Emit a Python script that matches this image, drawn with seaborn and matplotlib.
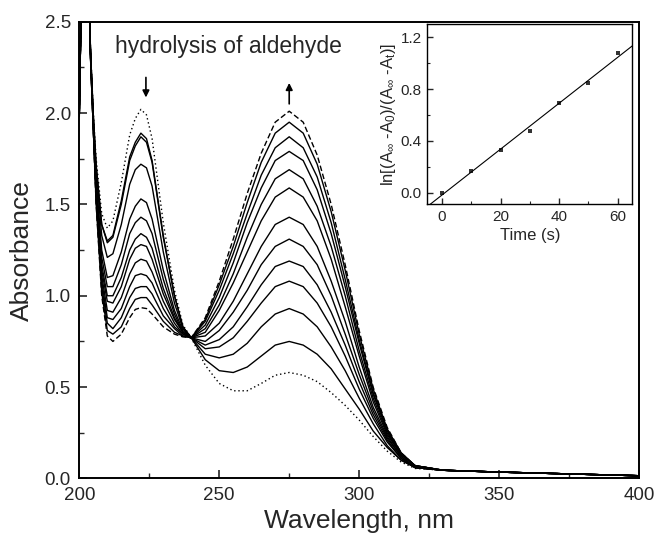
import numpy as np
import pandas as pd
import matplotlib
matplotlib.use('Agg')
import matplotlib.pyplot as plt
import seaborn as sns

sns.set_style('ticks')
plt.rcParams['font.family'] = ['Liberation Sans', 'DejaVu Sans']
plt.rcParams['mathtext.default'] = 'regular'
plt.rcParams['xtick.direction'] = 'in'
plt.rcParams['ytick.direction'] = 'in'

# wavelength grid (nm) shared by all spectra
wl = [200, 201, 203, 204, 205, 206, 208, 210, 212, 215, 218, 220, 222, 224, 226, 230, 234, 237, 240,
      245, 250, 255, 260, 265, 270, 275, 280, 285, 290, 295, 300, 305, 310, 315, 320, 330, 350, 400]

# spectra, first (dotted) -> last (dashed)
a0 = [2.00, 2.90, 2.95, 2.35, 2.00, 1.75, 1.45, 1.37, 1.41, 1.62, 1.88, 1.97, 2.02, 1.99, 1.86, 1.40, 1.03, 0.84, 0.77,
      0.62, 0.52, 0.48, 0.48, 0.52, 0.565, 0.58, 0.565, 0.53, 0.47, 0.40, 0.32, 0.23, 0.15, 0.09, 0.055, 0.045, 0.035, 0.015]
s1 = [2.02, 2.90, 2.95, 2.34, 1.99, 1.72, 1.39, 1.30, 1.33, 1.52, 1.76, 1.84, 1.89, 1.86, 1.74, 1.33, 1.00, 0.83, 0.77,
      0.65, 0.59, 0.58, 0.61, 0.67, 0.73, 0.75, 0.73, 0.68, 0.60, 0.49, 0.38, 0.26, 0.17, 0.10, 0.06, 0.045, 0.035, 0.015]
s2 = [1.98, 2.90, 2.95, 2.34, 1.99, 1.71, 1.39, 1.29, 1.32, 1.50, 1.74, 1.82, 1.87, 1.84, 1.73, 1.32, 1.00, 0.83, 0.77,
      0.68, 0.66, 0.68, 0.74, 0.83, 0.90, 0.93, 0.90, 0.83, 0.72, 0.59, 0.44, 0.30, 0.18, 0.10, 0.06, 0.045, 0.035, 0.015]
s3 = [2.04, 2.90, 2.95, 2.34, 1.97, 1.68, 1.33, 1.21, 1.23, 1.39, 1.61, 1.69, 1.72, 1.70, 1.60, 1.24, 0.96, 0.82, 0.77,
      0.71, 0.72, 0.77, 0.86, 0.96, 1.05, 1.08, 1.05, 0.96, 0.83, 0.67, 0.49, 0.33, 0.20, 0.11, 0.06, 0.045, 0.035, 0.015]
s4 = [2.00, 2.90, 2.95, 2.33, 1.95, 1.64, 1.25, 1.10, 1.11, 1.24, 1.42, 1.49, 1.53, 1.51, 1.42, 1.14, 0.92, 0.81, 0.77,
      0.73, 0.76, 0.83, 0.94, 1.06, 1.16, 1.19, 1.16, 1.06, 0.91, 0.73, 0.53, 0.35, 0.21, 0.11, 0.06, 0.045, 0.035, 0.015]
s5 = [2.01, 2.90, 2.95, 2.32, 1.95, 1.61, 1.21, 1.05, 1.05, 1.17, 1.34, 1.40, 1.43, 1.41, 1.34, 1.09, 0.90, 0.80, 0.77,
      0.75, 0.81, 0.91, 1.03, 1.17, 1.27, 1.31, 1.27, 1.17, 1.00, 0.79, 0.57, 0.37, 0.22, 0.12, 0.06, 0.045, 0.035, 0.015]
s6 = [1.99, 2.90, 2.95, 2.32, 1.94, 1.59, 1.17, 1.00, 1.00, 1.10, 1.25, 1.31, 1.34, 1.32, 1.26, 1.04, 0.88, 0.80, 0.77,
      0.78, 0.85, 0.97, 1.12, 1.27, 1.39, 1.43, 1.39, 1.27, 1.08, 0.86, 0.61, 0.39, 0.23, 0.12, 0.06, 0.045, 0.035, 0.015]
s7 = [2.00, 2.90, 2.95, 2.32, 1.93, 1.58, 1.14, 0.97, 0.96, 1.05, 1.20, 1.26, 1.28, 1.27, 1.20, 1.01, 0.87, 0.80, 0.77,
      0.80, 0.92, 1.07, 1.24, 1.41, 1.54, 1.59, 1.54, 1.41, 1.20, 0.94, 0.67, 0.42, 0.24, 0.13, 0.07, 0.045, 0.035, 0.015]
s8 = [2.00, 2.90, 2.95, 2.31, 1.92, 1.56, 1.11, 0.92, 0.91, 0.99, 1.12, 1.18, 1.20, 1.19, 1.13, 0.97, 0.85, 0.79, 0.77,
      0.82, 0.95, 1.12, 1.32, 1.50, 1.64, 1.69, 1.64, 1.49, 1.27, 1.00, 0.70, 0.44, 0.25, 0.13, 0.07, 0.045, 0.035, 0.015]
s9 = [2.00, 2.90, 2.95, 2.31, 1.92, 1.54, 1.08, 0.88, 0.87, 0.93, 1.05, 1.11, 1.12, 1.11, 1.07, 0.93, 0.83, 0.79, 0.77,
      0.84, 0.99, 1.18, 1.40, 1.59, 1.74, 1.79, 1.74, 1.58, 1.34, 1.05, 0.74, 0.46, 0.26, 0.13, 0.07, 0.045, 0.035, 0.015]
s10 = [2.00, 2.90, 2.95, 2.31, 1.91, 1.53, 1.05, 0.85, 0.82, 0.88, 0.99, 1.04, 1.05, 1.05, 1.01, 0.89, 0.82, 0.78, 0.77,
       0.86, 1.03, 1.23, 1.45, 1.66, 1.81, 1.87, 1.81, 1.65, 1.40, 1.09, 0.76, 0.47, 0.27, 0.14, 0.07, 0.045, 0.035, 0.015]
s11 = [2.00, 2.90, 2.95, 2.30, 1.91, 1.51, 1.02, 0.81, 0.79, 0.83, 0.93, 0.98, 0.99, 0.99, 0.95, 0.86, 0.80, 0.78, 0.77,
       0.87, 1.06, 1.27, 1.51, 1.73, 1.89, 1.95, 1.89, 1.72, 1.46, 1.14, 0.79, 0.49, 0.27, 0.14, 0.07, 0.045, 0.035, 0.015]
a12 = [2.00, 2.90, 2.95, 2.30, 1.90, 1.50, 1.00, 0.78, 0.75, 0.79, 0.88, 0.925, 0.935, 0.93, 0.90, 0.83, 0.79, 0.775, 0.77,
       0.88, 1.08, 1.31, 1.56, 1.78, 1.95, 2.01, 1.95, 1.77, 1.50, 1.17, 0.81, 0.50, 0.28, 0.14, 0.07, 0.045, 0.035, 0.015]

# inset: first-order plot
t_s = [0, 10, 20, 30, 40, 50, 60]
ln_ratio = [0.0, 0.17, 0.327, 0.479, 0.693, 0.85, 1.079]

curves = [a0, s1, s2, s3, s4, s5, s6, s7, s8, s9, s10, s11, a12]
kinds = ['first'] + ['mid'] * 11 + ['last']

df = pd.DataFrame({
    'wl': np.tile(wl, len(curves)),
    'A': np.concatenate(curves),
    'curve': np.repeat(np.arange(len(curves)), len(wl)),
    'kind': np.repeat(kinds, len(wl)),
})

fig = plt.figure(figsize=(6.55, 5.42), dpi=100)
ax = fig.add_axes([0.1211, 0.1172, 0.8545, 0.8428])

sns.lineplot(data=df, x='wl', y='A', units='curve', estimator=None, style='kind',
             dashes={'first': (1, 2), 'mid': '', 'last': (4, 2)},
             color='black', lw=1.0, legend=False, sort=False, ax=ax)

ax.set_xlim(200, 400)
ax.set_ylim(0, 2.5)
ax.set_xticks([200, 250, 300, 350, 400])
ax.set_xticks([225, 275, 325, 375], minor=True)
ax.set_yticks([0.0, 0.5, 1.0, 1.5, 2.0, 2.5])
ax.set_yticks([0.25, 0.75, 1.25, 1.75, 2.25], minor=True)
ax.set_yticklabels(['0.0', '0.5', '1.0', '1.5', '2.0', '2.5'])
ax.tick_params(which='major', length=6, width=1.2, labelsize=13.5, pad=6)
ax.tick_params(which='minor', length=3.5, width=1.0)
for sp in ax.spines.values():
    sp.set_linewidth(1.4)
    sp.set_color('black')
ax.set_xlabel('Wavelength, nm', fontsize=19, labelpad=4)
ax.set_ylabel('Absorbance', fontsize=19, labelpad=8)

ax.text(212.8, 2.33, 'hydrolysis of aldehyde', fontsize=16.5, va='baseline')
ax.annotate('', xy=(223.8, 2.07), xytext=(223.8, 2.21),
            arrowprops=dict(arrowstyle='-|>', color='black', lw=1.2, mutation_scale=10))
ax.annotate('', xy=(275, 2.18), xytext=(275, 2.035),
            arrowprops=dict(arrowstyle='-|>', color='black', lw=1.2, mutation_scale=10))

# inset
axin = fig.add_axes([0.6524, 0.6236, 0.313, 0.3321])
axin.set_xlim(-5, 65)
axin.set_ylim(-0.087, 1.303)
sns.regplot(x=t_s, y=ln_ratio, ax=axin, ci=None, truncate=False, color='black', marker='s',
            scatter_kws={'s': 12, 'linewidths': 0}, line_kws={'lw': 0.8})
axin.set_xlim(-5, 65)
axin.set_ylim(-0.087, 1.303)
axin.set_xticks([0, 20, 40, 60])
axin.set_xticks([10, 30, 50], minor=True)
axin.set_yticks([0.0, 0.4, 0.8, 1.2])
axin.set_yticks([0.2, 0.6, 1.0], minor=True)
axin.set_yticklabels(['0.0', '0.4', '0.8', '1.2'])
axin.tick_params(which='major', length=4, width=1.0, labelsize=11, pad=4)
axin.tick_params(which='minor', length=2.5, width=0.8)
for sp in axin.spines.values():
    sp.set_linewidth(1.0)
    sp.set_color('black')
axin.set_xlabel('Time (s)', fontsize=12, labelpad=3)
axin.set_ylabel(r'ln[(A$_{\infty}$ -A$_0$)/(A$_{\infty}$ -A$_t$)]', fontsize=12, labelpad=2)

fig.savefig('out.png', dpi=100)
